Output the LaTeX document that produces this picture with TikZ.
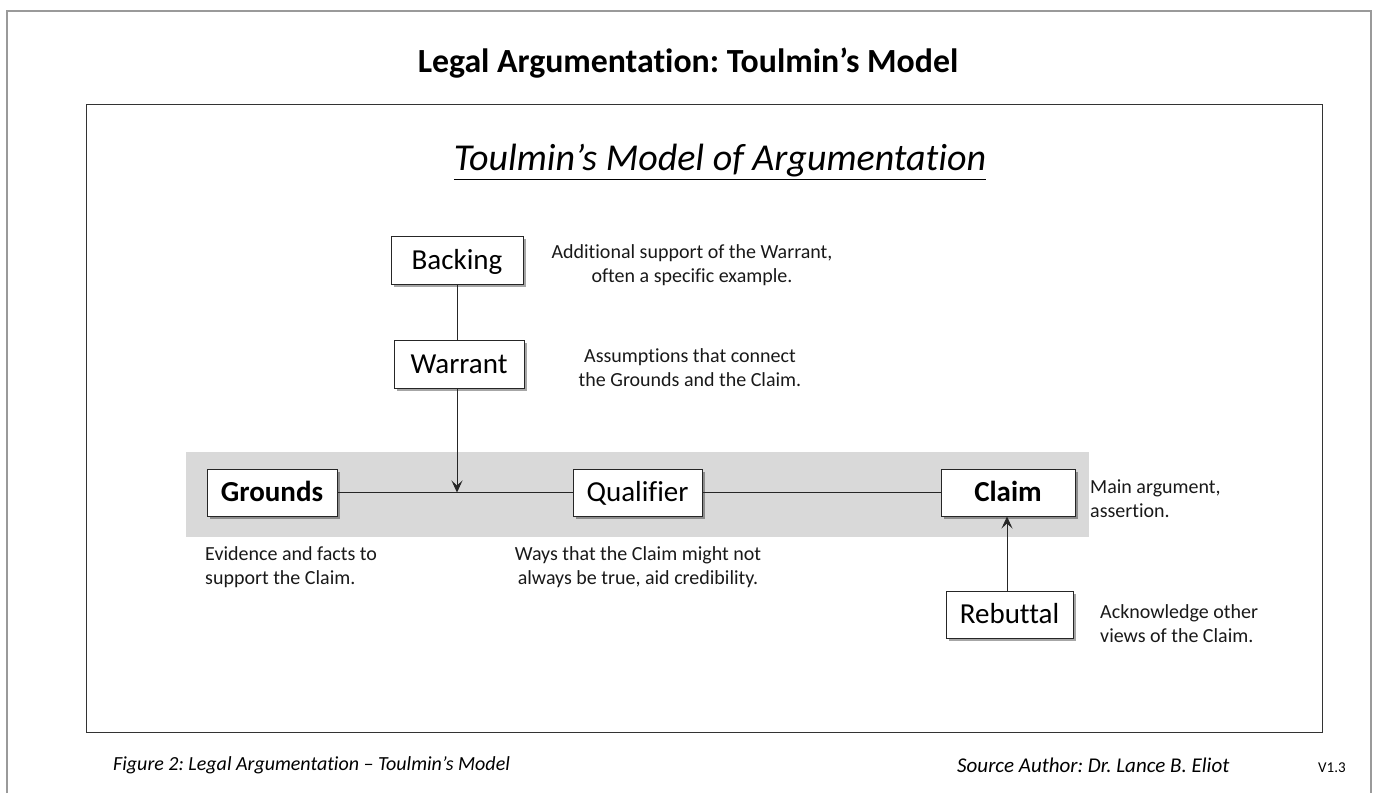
\documentclass[tikz,border=0pt]{standalone}
\usepackage{fontspec}
\setmainfont{Carlito}[Ligatures={NoCommon,NoContextual}]
\usetikzlibrary{shadows,arrows.meta}
\definecolor{bandgray}{HTML}{D9D9D9}
\definecolor{framegray}{HTML}{9A9A9A}
\frenchspacing
\tikzset{
  lbox/.style={draw=black!85, line width=1pt, fill=white, inner sep=0pt,
    font=\fontsize{29}{31}\selectfont, text height=21pt, text depth=3pt,
    drop shadow={shadow xshift=3pt, shadow yshift=-3pt, fill=black, opacity=0.35}},
  note/.style={font=\fontsize{20}{24}\selectfont, inner sep=0pt, text=black!90},
  link/.style={draw=black!85, line width=0.9pt},
  arr/.style={link, -{Stealth[length=12pt,width=11pt,inset=5pt]}},
}
\begin{document}
\begin{tikzpicture}[x=1pt,y=-1pt]
\useasboundingbox (0,0) rectangle (1375,793);
% outer frame
\draw[framegray, line width=2pt] (6.5,793) -- (6.5,10.5) -- (1370.5,10.5) -- (1370.5,793);
% title
\node[font=\fontsize{33.8}{36}\selectfont\bfseries, inner sep=0pt] (title) at (688,63) {Legal Argumentation: Toulmin’s Model};
% inner frame
\draw[black!80, line width=1pt] (86,104) rectangle (1322,732);
% subtitle
\node[font=\fontsize{38}{42}\selectfont\itshape, inner sep=0pt] (sub) at (720,162) {\underline{Toulmin’s Model of Argumentation}};
% band
\fill[bandgray] (186,452) rectangle (1089,537);
% boxes
\node[lbox, minimum width=132pt, minimum height=48pt] (backing) at (457,260) {Backing};
\node[lbox, minimum width=130pt, minimum height=48pt] (warrant) at (459,364) {Warrant};
\node[lbox, minimum width=130pt, minimum height=47pt, font=\fontsize{29}{31}\selectfont\bfseries] (grounds) at (272,492.5) {Grounds};
\node[lbox, minimum width=129pt, minimum height=47pt] (qualifier) at (637.5,492.5) {Qualifier};
\node[lbox, minimum width=134pt, minimum height=47pt, font=\fontsize{29}{31}\selectfont\bfseries] (claim) at (1008,492.5) {Claim};
\node[lbox, minimum width=127pt, minimum height=47pt] (rebuttal) at (1009.5,614.5) {Rebuttal};
% connectors
\coordinate (wj) at (457,492.5);
\coordinate (cj) at (1007,516);
\draw[link] (backing.south -| wj) -- (warrant.north -| wj);
\draw[link] (grounds.east) -- (qualifier.west);
\draw[link] (qualifier.east) -- (claim.west);
\draw[arr] (warrant.south -| wj) -- (wj);
\draw[arr] (rebuttal.north -| cj) -- (claim.south -| cj);
% notes
\node[note, align=center] (nbacking) at (692,265) {Additional support of the Warrant,\\often a specific example.};
\node[note, align=center] (nwarrant) at (690,368) {Assumptions that connect\\the Grounds and the Claim.};
\node[note, align=left, anchor=west] (nclaim) at (1090,499) {Main argument,\\assertion.};
\node[note, align=left, anchor=west] (ngrounds) at (205,567) {Evidence and facts to\\support the Claim.};
\node[note, align=center] (nqual) at (638,567) {Ways that the Claim might not\\always be true, aid credibility.};
\node[note, align=left, anchor=west] (nrebut) at (1100,624) {Acknowledge other\\views of the Claim.};
% footer
\node[font=\fontsize{20}{24}\selectfont\itshape, inner sep=0pt, anchor=west] (fig) at (113,765) {Figure 2: Legal Argumentation – Toulmin’s Model};
\node[font=\fontsize{21}{24}\selectfont\itshape, inner sep=0pt, anchor=west] (src) at (957,765) {Source Author: Dr. Lance B. Eliot};
\node[font=\fontsize{15}{18}\selectfont, inner sep=0pt, anchor=west] (ver) at (1318,768) {V1.3};
\end{tikzpicture}
\end{document}
